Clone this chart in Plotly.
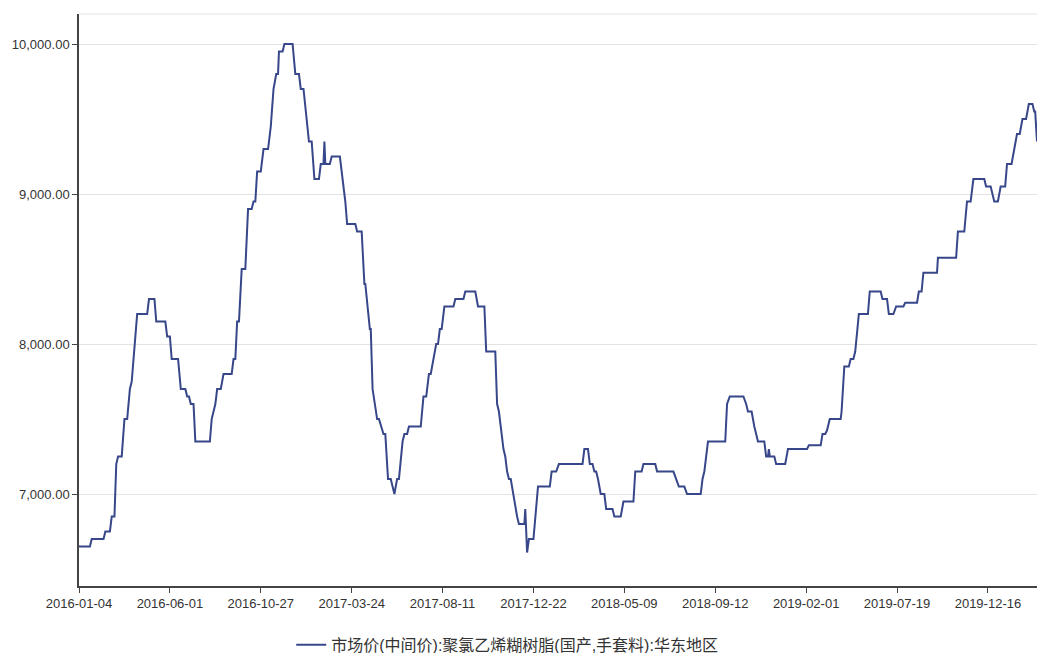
import plotly.graph_objects as go

# Trading-day index (category position) and price at each change point
trading_day = [
    0, 12, 14, 27, 29, 34, 36, 39, 41, 43, 45, 47, 50, 53, 56, 58, 64, 75, 77, 83,
    85, 95, 97, 100, 102, 109, 112, 117, 119, 121, 123, 126, 128, 144, 146, 148, 150, 152, 156, 159,
    168, 170, 172, 174, 176, 179, 183, 186, 190, 192, 194, 196, 200, 203, 208, 211, 214, 217, 219, 220,
    224, 226, 235, 238, 242, 244, 247, 253, 256, 259, 264, 266, 269, 270, 271, 276, 278, 287, 289, 293,
    295, 304, 306, 311, 314, 315, 320, 321, 323, 328, 330, 335, 337, 340, 343, 347, 350, 352, 356, 358,
    361, 363, 376, 379, 382, 385, 387, 390, 393, 395, 397, 399, 402, 412, 414, 423, 425, 436, 439, 446,
    448, 458, 460, 462, 467, 469, 471, 473, 475, 482, 484, 490, 491, 493, 495, 500, 505, 518, 520, 525,
    528, 554, 556, 560, 562, 565, 567, 569, 571, 574, 578, 580, 587, 589, 596, 599, 610, 612, 619, 621,
    634, 636, 654, 657, 660, 666, 669, 684, 686, 688, 692, 711, 713, 716, 731, 734, 736, 740, 743, 747,
    754, 756, 758, 759, 760, 765, 767, 777, 780, 801, 803, 816, 818, 821, 823, 826, 838, 839, 842, 847,
    849, 852, 854, 858, 868, 870, 882, 884, 889, 891, 896, 899, 907, 909, 922, 924, 927, 929, 944, 945,
    965, 967, 974, 977, 981, 984, 996, 998, 1003, 1007, 1011, 1014, 1019, 1021, 1026, 1029, 1032, 1035, 1038, 1042,
    1045, 1049, 1051, 1052, 1054,
]
price = [
    6650, 6650, 6700, 6700, 6750, 6750, 6850, 6850, 7200, 7250, 7250, 7250, 7500, 7500, 7700, 7750, 8200, 8200, 8300, 8300,
    8150, 8150, 8050, 8050, 7900, 7900, 7700, 7700, 7650, 7650, 7600, 7600, 7350, 7350, 7500, 7550, 7600, 7700, 7700, 7800,
    7800, 7900, 7900, 8150, 8150, 8500, 8500, 8900, 8900, 8950, 8950, 9150, 9150, 9300, 9300, 9450, 9700, 9800, 9800, 9950,
    9950, 10000, 10000, 9800, 9800, 9700, 9700, 9350, 9350, 9100, 9100, 9200, 9200, 9350, 9200, 9200, 9250, 9250, 9150, 8950,
    8800, 8800, 8750, 8750, 8400, 8400, 8100, 8100, 7700, 7500, 7500, 7400, 7400, 7100, 7100, 7000, 7100, 7100, 7350, 7400,
    7400, 7450, 7450, 7650, 7650, 7800, 7800, 7900, 8000, 8000, 8100, 8100, 8250, 8250, 8300, 8300, 8350, 8350, 8250, 8250,
    7950, 7950, 7600, 7550, 7300, 7250, 7150, 7100, 7100, 6850, 6800, 6800, 6900, 6610, 6700, 6700, 7050, 7050, 7150, 7150,
    7200, 7200, 7300, 7300, 7200, 7200, 7150, 7150, 7100, 7000, 7000, 6900, 6900, 6850, 6850, 6950, 6950, 7150, 7150, 7200,
    7200, 7150, 7150, 7100, 7050, 7050, 7000, 7000, 7100, 7150, 7350, 7350, 7600, 7650, 7650, 7600, 7550, 7550, 7450, 7350,
    7350, 7250, 7250, 7300, 7250, 7250, 7200, 7200, 7300, 7300, 7325, 7325, 7400, 7400, 7425, 7500, 7500, 7550, 7850, 7850,
    7900, 7900, 7950, 8200, 8200, 8350, 8350, 8300, 8300, 8200, 8200, 8250, 8250, 8275, 8275, 8350, 8350, 8475, 8475, 8575,
    8575, 8750, 8750, 8950, 8950, 9100, 9100, 9050, 9050, 8950, 8950, 9050, 9050, 9200, 9200, 9300, 9400, 9400, 9500, 9500,
    9600, 9600, 9550, 9550, 9350,
]

tick_positions = [0, 100, 200, 300, 400, 500, 600, 700, 800, 900, 1000]
tick_labels = [
    "2016-01-04", "2016-06-01", "2016-10-27", "2017-03-24", "2017-08-11",
    "2017-12-22", "2018-05-09", "2018-09-12", "2019-02-01", "2019-07-19", "2019-12-16",
]
y_ticks = [7000, 8000, 9000, 10000]
series_name = "市场价(中间价):聚氯乙烯糊树脂(国产,手套料):华东地区"

FONT = "Helvetica, Liberation Sans, Arial, Noto Sans CJK SC, sans-serif"
LINE_COLOR = "#37478a"

fig = go.Figure()
fig.add_trace(go.Scatter(
    x=trading_day, y=price, mode="lines", name=series_name,
    line=dict(color=LINE_COLOR, width=2),
))

fig.update_layout(
    width=1039, height=653,
    margin=dict(l=79, r=2, t=14, b=67, autoexpand=False),
    paper_bgcolor="white", plot_bgcolor="white",
    font=dict(family=FONT, size=13, color="#333333"),
    showlegend=True,
    legend=dict(
        orientation="h", x=0.447, xanchor="center", y=-0.073, yanchor="top",
        font=dict(size=16, color="#333333"),
    ),
    xaxis=dict(
        range=[0, 1054], automargin=False,
        tickmode="array", tickvals=tick_positions, ticktext=tick_labels,
        showgrid=False, zeroline=False,
        showline=True, linecolor="#444444", linewidth=1.5,
        ticks="outside", ticklen=5, tickcolor="#444444",
        tickfont=dict(size=13, color="#333333"),
    ),
    yaxis=dict(
        range=[6387, 10200], automargin=False,
        tickmode="array", tickvals=y_ticks, tickformat=",.2f",
        showgrid=True, gridcolor="#e3e3e3", gridwidth=1, zeroline=False,
        showline=True, linecolor="#444444", linewidth=1.5,
        ticks="outside", ticklen=5, tickcolor="#444444",
        tickfont=dict(size=13, color="#333333"),
    ),
    shapes=[dict(type="line", xref="paper", yref="paper", x0=0, x1=1, y0=1, y1=1,
                 line=dict(color="#e3e3e3", width=1))],
)

fig.write_html(
    "out.html",
    config={"displayModeBar": False},
    post_script="document.body.style.margin='0';document.body.style.overflow='hidden';",
)
